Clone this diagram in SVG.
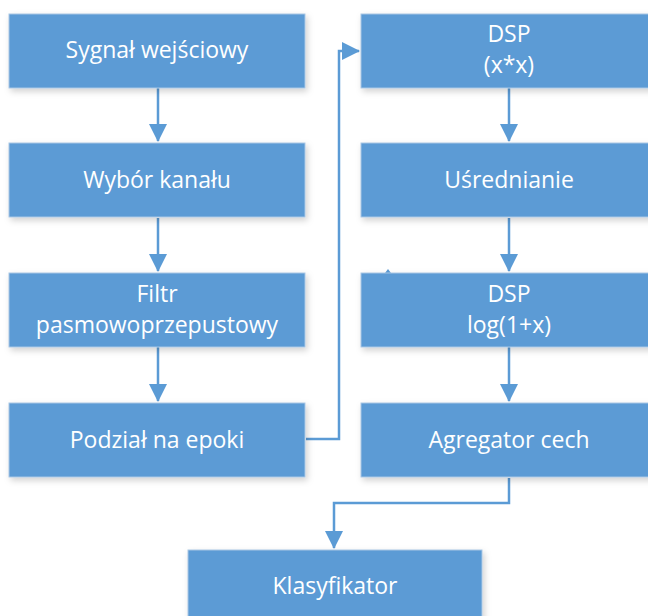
<svg xmlns="http://www.w3.org/2000/svg" width="648" height="616" viewBox="0 0 648 616">
<defs>
<filter id="sh" x="-10%" y="-20%" width="130%" height="160%">
<feDropShadow dx="2" dy="3" stdDeviation="3" flood-color="#000" flood-opacity="0.18"/>
</filter>
<marker id="ah" markerWidth="18" markerHeight="18" refX="17" refY="9" orient="auto" markerUnits="userSpaceOnUse">
<path d="M0,0 L18,9 L0,18 Z" fill="#5B9BD5"/>
</marker>
</defs>
<style>
.box{fill:#5B9BD5;stroke:#A9C6E4;stroke-width:1;filter:url(#sh)}
.t{fill:#fff;font-family:"Open Sans","Liberation Sans",sans-serif;font-size:23px;text-anchor:middle}
.c{fill:none;stroke:#5B9BD5;stroke-width:2.5}
</style>
<rect width="648" height="616" fill="#fff"/>
<g id="connectors">
<path class="c" d="M158,88 V141" marker-end="url(#ah)"/>
<path class="c" d="M158,218 V271" marker-end="url(#ah)"/>
<path class="c" d="M158,347 V401" marker-end="url(#ah)"/>
<path class="c" d="M509,88 V141" marker-end="url(#ah)"/>
<path class="c" d="M509,218 V271" marker-end="url(#ah)"/>
<path class="c" d="M509,347 V401" marker-end="url(#ah)"/>
<path class="c" d="M306,439 H339 V51 H359" marker-end="url(#ah)"/>
<path class="c" d="M509,478 V503 H334 V548" marker-end="url(#ah)"/>
<path d="M385,273 L388,269 L391,273 Z" fill="#5B9BD5"/>
</g>
<g id="n1"><rect class="box" x="9" y="14" width="296" height="74"/><text class="t" x="157" y="58">Sygnał wejściowy</text></g>
<g id="n2"><rect class="box" x="9" y="143" width="296" height="74"/><text class="t" x="157" y="188">Wybór kanału</text></g>
<g id="n3"><rect class="box" x="9" y="273" width="296" height="74"/><text class="t" x="157" y="302">Filtr</text><text class="t" x="157" y="333">pasmowoprzepustowy</text></g>
<g id="n4"><rect class="box" x="9" y="403" width="296" height="74"/><text class="t" x="157" y="448">Podział na epoki</text></g>
<g id="n5"><rect class="box" x="361" y="14" width="296" height="74"/><text class="t" x="509" y="42">DSP</text><text class="t" x="509" y="73">(x*x)</text></g>
<g id="n6"><rect class="box" x="361" y="143" width="296" height="74"/><text class="t" x="509" y="188">Uśrednianie</text></g>
<g id="n7"><rect class="box" x="361" y="273" width="296" height="74"/><text class="t" x="509" y="302">DSP</text><text class="t" x="509" y="333">log(1+x)</text></g>
<g id="n8"><rect class="box" x="361" y="403" width="296" height="74"/><text class="t" x="509" y="448">Agregator cech</text></g>
<g id="n9"><rect class="box" x="188" y="550" width="294" height="74"/><text class="t" x="335" y="594">Klasyfikator</text></g>
</svg>
